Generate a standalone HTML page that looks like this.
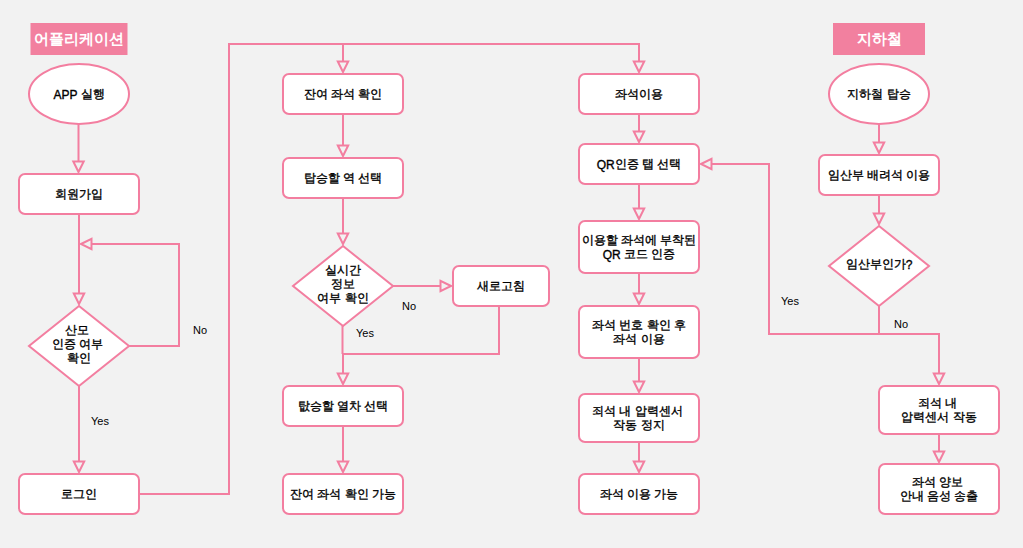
<!DOCTYPE html><html lang="ko"><head><meta charset="utf-8"><style>
html,body{margin:0;padding:0;}
body{width:1023px;height:548px;background:#f2f2f2;position:relative;overflow:hidden;font-family:"Liberation Sans",sans-serif;}
svg{position:absolute;left:0;top:0;}
.t{position:absolute;display:flex;align-items:center;justify-content:center;text-align:center;font-size:12px;line-height:14px;font-weight:normal;-webkit-text-stroke:0.35px #000;color:#000;white-space:nowrap;}
.l{font-weight:normal;-webkit-text-stroke:0.35px #000;position:relative;top:1px;}
.lb{position:absolute;font-size:11px;line-height:11px;color:#000;white-space:nowrap;}
.hd{position:absolute;color:#fff;font-size:15px;font-weight:bold;display:flex;align-items:center;justify-content:center;}

</style></head><body>
<svg width="1023" height="548" viewBox="0 0 1023 548">
<rect x="30.5" y="23" width="97" height="32" fill="#f2809f"/><rect x="833" y="23" width="92" height="32" fill="#f2809f"/>
<ellipse cx="79" cy="94" rx="50" ry="30" fill="#fff" stroke="#f37ea0" stroke-width="2"/>
<path d="M78.5 124 L78.5 161.5" fill="none" stroke="#f37ea0" stroke-width="2" stroke-linejoin="miter"/>
<path d="M78.5 172L73.3 161.5L83.7 161.5Z" fill="none" stroke="#f37ea0" stroke-width="2" stroke-linejoin="miter"/>
<rect x="19" y="174" width="120" height="40" rx="6" ry="6" fill="#fff" stroke="#f37ea0" stroke-width="2"/>
<path d="M79 214 L79 293.5" fill="none" stroke="#f37ea0" stroke-width="2" stroke-linejoin="miter"/>
<path d="M79 304L73.8 293.5L84.2 293.5Z" fill="none" stroke="#f37ea0" stroke-width="2" stroke-linejoin="miter"/>
<path d="M79 306L129 346L79 386L29 346Z" fill="#fff" stroke="#f37ea0" stroke-width="2" stroke-linejoin="miter"/>
<path d="M129 346 L179 346 L179 244 L91.5 244" fill="none" stroke="#f37ea0" stroke-width="2" stroke-linejoin="miter"/>
<path d="M81 244L91.5 238.8L91.5 249.2Z" fill="none" stroke="#f37ea0" stroke-width="2" stroke-linejoin="miter"/>
<path d="M79 386 L79 461.5" fill="none" stroke="#f37ea0" stroke-width="2" stroke-linejoin="miter"/>
<path d="M79 472L73.8 461.5L84.2 461.5Z" fill="none" stroke="#f37ea0" stroke-width="2" stroke-linejoin="miter"/>
<rect x="19" y="474" width="120" height="40" rx="6" ry="6" fill="#fff" stroke="#f37ea0" stroke-width="2"/>
<path d="M139 494 L229 494 L229 44 L639 44 L639 61.5" fill="none" stroke="#f37ea0" stroke-width="2" stroke-linejoin="miter"/>
<path d="M639 72L633.8 61.5L644.2 61.5Z" fill="none" stroke="#f37ea0" stroke-width="2" stroke-linejoin="miter"/>
<path d="M343 44 L343 61.5" fill="none" stroke="#f37ea0" stroke-width="2" stroke-linejoin="miter"/>
<path d="M343 72L337.8 61.5L348.2 61.5Z" fill="none" stroke="#f37ea0" stroke-width="2" stroke-linejoin="miter"/>
<rect x="283" y="74" width="120" height="40" rx="6" ry="6" fill="#fff" stroke="#f37ea0" stroke-width="2"/>
<path d="M343 114 L343 145.5" fill="none" stroke="#f37ea0" stroke-width="2" stroke-linejoin="miter"/>
<path d="M343 156L337.8 145.5L348.2 145.5Z" fill="none" stroke="#f37ea0" stroke-width="2" stroke-linejoin="miter"/>
<rect x="283" y="158" width="120" height="40" rx="6" ry="6" fill="#fff" stroke="#f37ea0" stroke-width="2"/>
<path d="M343 198 L343 233.5" fill="none" stroke="#f37ea0" stroke-width="2" stroke-linejoin="miter"/>
<path d="M343 244L337.8 233.5L348.2 233.5Z" fill="none" stroke="#f37ea0" stroke-width="2" stroke-linejoin="miter"/>
<path d="M343 246L393 286L343 326L293 286Z" fill="#fff" stroke="#f37ea0" stroke-width="2" stroke-linejoin="miter"/>
<path d="M393 286 L440.5 286" fill="none" stroke="#f37ea0" stroke-width="2" stroke-linejoin="miter"/>
<path d="M451 286L440.5 280.8L440.5 291.2Z" fill="none" stroke="#f37ea0" stroke-width="2" stroke-linejoin="miter"/>
<rect x="453" y="266" width="96" height="40" rx="6" ry="6" fill="#fff" stroke="#f37ea0" stroke-width="2"/>
<path d="M499 306 L499 354 L343 354" fill="none" stroke="#f37ea0" stroke-width="2" stroke-linejoin="miter"/>
<path d="M342.5 326 L342.5 354" fill="none" stroke="#f37ea0" stroke-width="2" stroke-linejoin="miter"/>
<path d="M343 354 L343 373.5" fill="none" stroke="#f37ea0" stroke-width="2" stroke-linejoin="miter"/>
<path d="M343 384L337.8 373.5L348.2 373.5Z" fill="none" stroke="#f37ea0" stroke-width="2" stroke-linejoin="miter"/>
<rect x="283" y="386" width="120" height="40" rx="6" ry="6" fill="#fff" stroke="#f37ea0" stroke-width="2"/>
<path d="M343 426 L343 461.5" fill="none" stroke="#f37ea0" stroke-width="2" stroke-linejoin="miter"/>
<path d="M343 472L337.8 461.5L348.2 461.5Z" fill="none" stroke="#f37ea0" stroke-width="2" stroke-linejoin="miter"/>
<rect x="283" y="474" width="120" height="40" rx="6" ry="6" fill="#fff" stroke="#f37ea0" stroke-width="2"/>
<rect x="579" y="74" width="120" height="40" rx="6" ry="6" fill="#fff" stroke="#f37ea0" stroke-width="2"/>
<path d="M639 114 L639 131.5" fill="none" stroke="#f37ea0" stroke-width="2" stroke-linejoin="miter"/>
<path d="M639 142L633.8 131.5L644.2 131.5Z" fill="none" stroke="#f37ea0" stroke-width="2" stroke-linejoin="miter"/>
<rect x="579" y="144" width="120" height="40" rx="6" ry="6" fill="#fff" stroke="#f37ea0" stroke-width="2"/>
<path d="M639 184 L639 208.5" fill="none" stroke="#f37ea0" stroke-width="2" stroke-linejoin="miter"/>
<path d="M639 219L633.8 208.5L644.2 208.5Z" fill="none" stroke="#f37ea0" stroke-width="2" stroke-linejoin="miter"/>
<rect x="579" y="221" width="120" height="52" rx="6" ry="6" fill="#fff" stroke="#f37ea0" stroke-width="2"/>
<path d="M639 273 L639 293.5" fill="none" stroke="#f37ea0" stroke-width="2" stroke-linejoin="miter"/>
<path d="M639 304L633.8 293.5L644.2 293.5Z" fill="none" stroke="#f37ea0" stroke-width="2" stroke-linejoin="miter"/>
<rect x="579" y="306" width="120" height="52" rx="6" ry="6" fill="#fff" stroke="#f37ea0" stroke-width="2"/>
<path d="M639 358 L639 381.5" fill="none" stroke="#f37ea0" stroke-width="2" stroke-linejoin="miter"/>
<path d="M639 392L633.8 381.5L644.2 381.5Z" fill="none" stroke="#f37ea0" stroke-width="2" stroke-linejoin="miter"/>
<rect x="579" y="394" width="120" height="48" rx="6" ry="6" fill="#fff" stroke="#f37ea0" stroke-width="2"/>
<path d="M639 442 L639 461.5" fill="none" stroke="#f37ea0" stroke-width="2" stroke-linejoin="miter"/>
<path d="M639 472L633.8 461.5L644.2 461.5Z" fill="none" stroke="#f37ea0" stroke-width="2" stroke-linejoin="miter"/>
<rect x="579" y="474" width="120" height="40" rx="6" ry="6" fill="#fff" stroke="#f37ea0" stroke-width="2"/>
<ellipse cx="879" cy="94" rx="50" ry="30" fill="#fff" stroke="#f37ea0" stroke-width="2"/>
<path d="M879 124 L879 142.5" fill="none" stroke="#f37ea0" stroke-width="2" stroke-linejoin="miter"/>
<path d="M879 153L873.8 142.5L884.2 142.5Z" fill="none" stroke="#f37ea0" stroke-width="2" stroke-linejoin="miter"/>
<rect x="819" y="155" width="120" height="40" rx="6" ry="6" fill="#fff" stroke="#f37ea0" stroke-width="2"/>
<path d="M879 195 L879 213.5" fill="none" stroke="#f37ea0" stroke-width="2" stroke-linejoin="miter"/>
<path d="M879 224L873.8 213.5L884.2 213.5Z" fill="none" stroke="#f37ea0" stroke-width="2" stroke-linejoin="miter"/>
<path d="M879 226L929 266L879 306L829 266Z" fill="#fff" stroke="#f37ea0" stroke-width="2" stroke-linejoin="miter"/>
<path d="M879 306 L879 334 L769 334 L769 164 L711.5 164" fill="none" stroke="#f37ea0" stroke-width="2" stroke-linejoin="miter"/>
<path d="M701 164L711.5 158.8L711.5 169.2Z" fill="none" stroke="#f37ea0" stroke-width="2" stroke-linejoin="miter"/>
<path d="M879 334 L939 334 L939 373.5" fill="none" stroke="#f37ea0" stroke-width="2" stroke-linejoin="miter"/>
<path d="M939 384L933.8 373.5L944.2 373.5Z" fill="none" stroke="#f37ea0" stroke-width="2" stroke-linejoin="miter"/>
<rect x="879" y="386" width="120" height="48" rx="6" ry="6" fill="#fff" stroke="#f37ea0" stroke-width="2"/>
<path d="M939 434 L939 451.5" fill="none" stroke="#f37ea0" stroke-width="2" stroke-linejoin="miter"/>
<path d="M939 462L933.8 451.5L944.2 451.5Z" fill="none" stroke="#f37ea0" stroke-width="2" stroke-linejoin="miter"/>
<rect x="879" y="464" width="120" height="50" rx="6" ry="6" fill="#fff" stroke="#f37ea0" stroke-width="2"/>
</svg>
<div class="hd" style="left:30.5px;top:23px;width:97px;height:32px">어플리케이션</div>
<div class="hd" style="left:833px;top:23px;width:92px;height:32px">지하철</div>
<div class="t" style="left:29px;top:64px;width:100px;height:60px"><div><span class="l">APP</span> 실행</div></div>
<div class="t" style="left:19px;top:174px;width:120px;height:40px"><div>회원가입</div></div>
<div class="t" style="left:29px;top:304px;width:100px;height:80px"><div>산모&nbsp;<br>인증 여부&nbsp;<br>확인</div></div>
<div class="t" style="left:19px;top:474px;width:120px;height:40px"><div>로그인</div></div>
<div class="t" style="left:283px;top:74px;width:120px;height:40px"><div>잔여 좌석 확인</div></div>
<div class="t" style="left:283px;top:158px;width:120px;height:40px"><div>탑승할 역 선택</div></div>
<div class="t" style="left:293px;top:244px;width:100px;height:80px"><div>실시간<br>정보<br>여부 확인</div></div>
<div class="t" style="left:453px;top:266px;width:96px;height:40px"><div>새로고침</div></div>
<div class="t" style="left:283px;top:386px;width:120px;height:40px"><div>탒승할 열차 선택</div></div>
<div class="t" style="left:283px;top:474px;width:120px;height:40px"><div>잔여 좌석 확인 가능</div></div>
<div class="t" style="left:579px;top:74px;width:120px;height:40px"><div>좌석이용</div></div>
<div class="t" style="left:579px;top:144px;width:120px;height:40px"><div><span class="l">QR</span>인증 탭 선택</div></div>
<div class="t" style="left:579px;top:221px;width:120px;height:52px"><div>이용할 좌석에 부착된<br><span class="l">QR</span> 코드 인증</div></div>
<div class="t" style="left:579px;top:306px;width:120px;height:52px"><div>좌석 번호 확인 후<br>좌석 이용</div></div>
<div class="t" style="left:579px;top:394px;width:120px;height:48px"><div>죄석 내 압력센서&nbsp;<br>작동 정지</div></div>
<div class="t" style="left:579px;top:474px;width:120px;height:40px"><div>좌석 이용 가능</div></div>
<div class="t" style="left:829px;top:64px;width:100px;height:60px"><div>지하철 탑승</div></div>
<div class="t" style="left:819px;top:155px;width:120px;height:40px"><div>임산부 배려석 이용</div></div>
<div class="t" style="left:829px;top:224px;width:100px;height:80px"><div>임산부인가<span class="l">?</span></div></div>
<div class="t" style="left:879px;top:386px;width:120px;height:48px"><div>죄석 내&nbsp;<br>압력센서 작동</div></div>
<div class="t" style="left:879px;top:464px;width:120px;height:50px"><div>좌석 양보&nbsp;<br>안내 음성 송출</div></div>
<div class="lb" style="left:91px;top:416px">Yes</div>
<div class="lb" style="left:193px;top:325px">No</div>
<div class="lb" style="left:356px;top:328px">Yes</div>
<div class="lb" style="left:402px;top:301px">No</div>
<div class="lb" style="left:781px;top:296px">Yes</div>
<div class="lb" style="left:894px;top:319px">No</div>
</body></html>
